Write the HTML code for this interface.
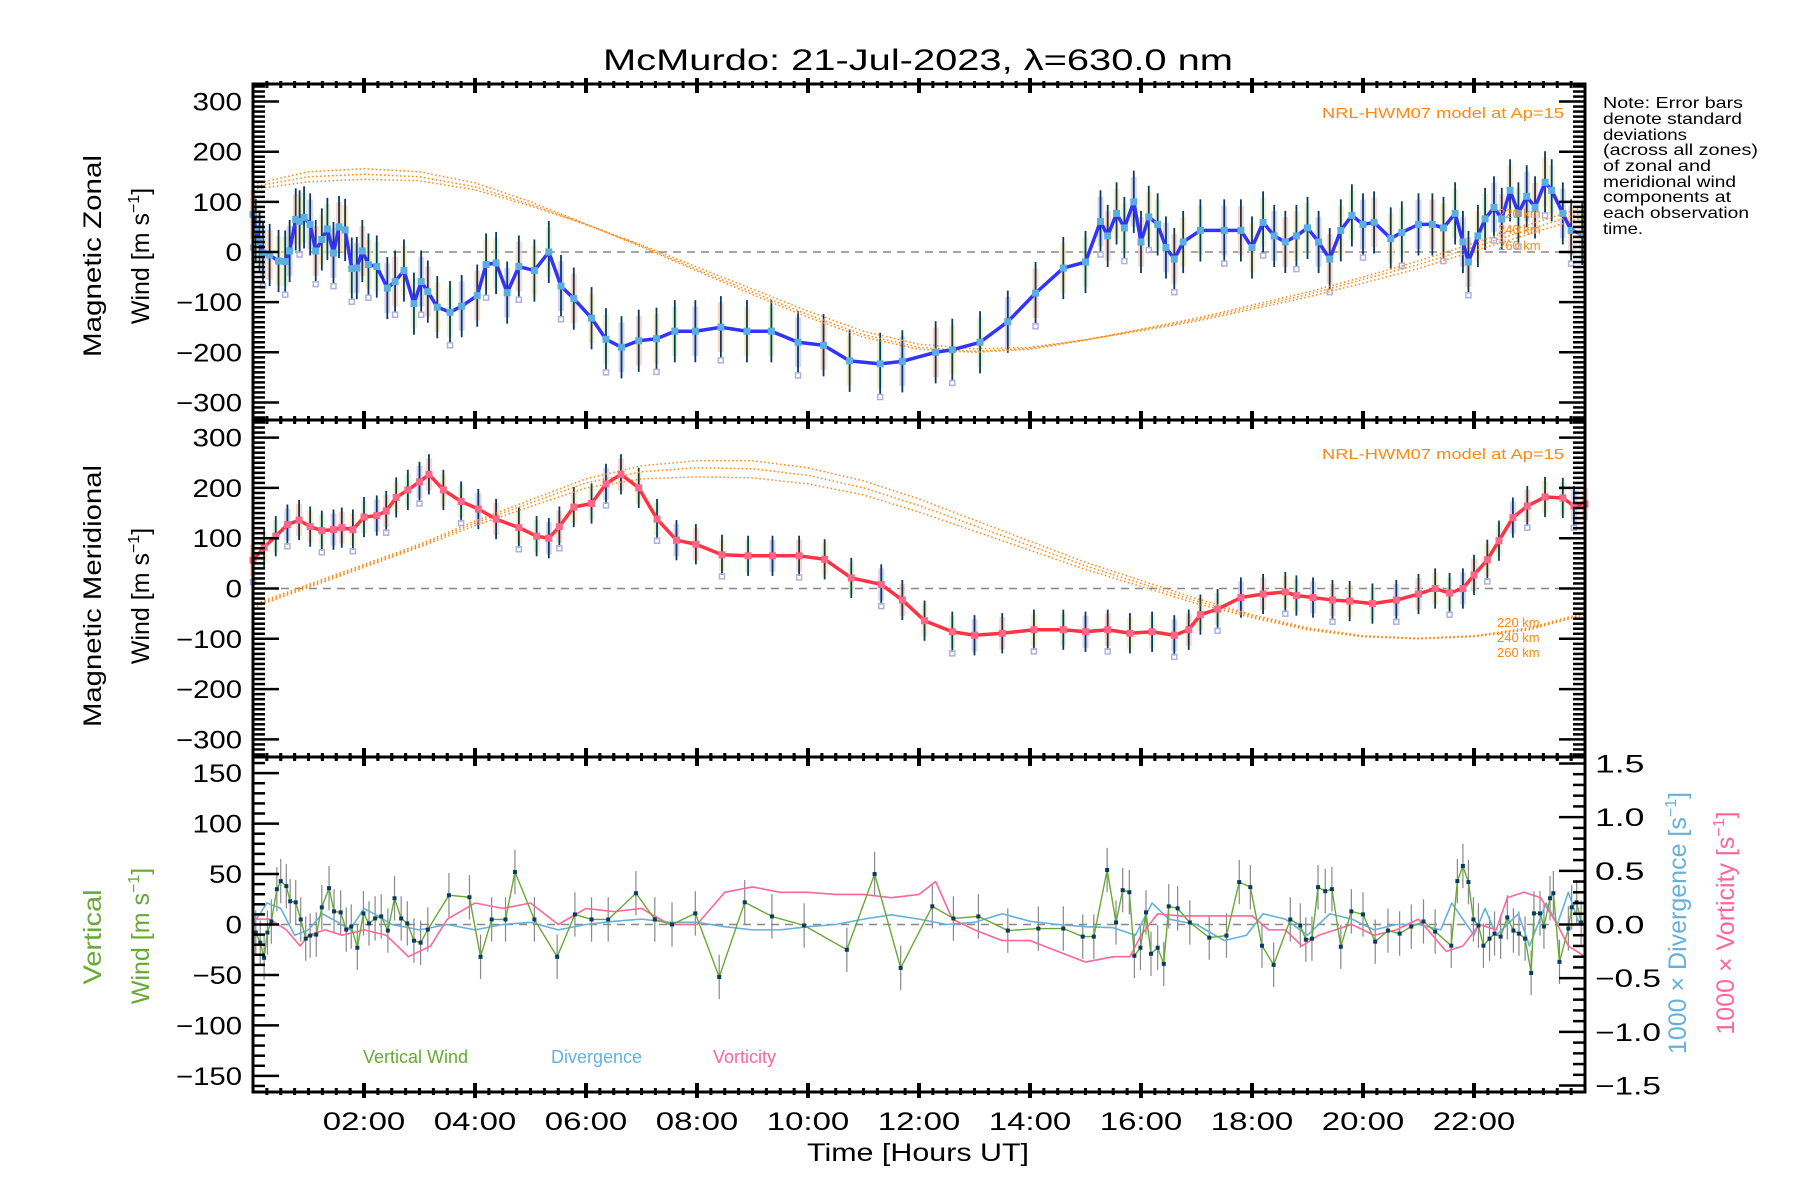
<!DOCTYPE html>
<html><head><meta charset="utf-8"><title>McMurdo winds</title>
<style>
html,body{margin:0;padding:0;background:#fff;}
svg{display:block;font-family:"Liberation Sans",sans-serif;}
</style></head>
<body>
<svg id="chart" width="1800" height="1200" viewBox="0 0 1800 1200" xmlns="http://www.w3.org/2000/svg">
<rect x="0" y="0" width="1800" height="1200" fill="#fff"/>
<text x="918" y="70" font-size="30" text-anchor="middle" textLength="630" lengthAdjust="spacingAndGlyphs">McMurdo: 21-Jul-2023, λ=630.0 nm</text>
<g id="g-marks"></g>
<g id="g-axes"></g>
<g font-size="16" fill="#000">
<text x="1603" y="108" textLength="140" lengthAdjust="spacingAndGlyphs">Note: Error bars</text>
<text x="1603" y="124" textLength="139" lengthAdjust="spacingAndGlyphs">denote standard</text>
<text x="1603" y="140" textLength="84" lengthAdjust="spacingAndGlyphs">deviations</text>
<text x="1603" y="155" textLength="155" lengthAdjust="spacingAndGlyphs">(across all zones)</text>
<text x="1603" y="171" textLength="108" lengthAdjust="spacingAndGlyphs">of zonal and</text>
<text x="1603" y="187" textLength="133" lengthAdjust="spacingAndGlyphs">meridional wind</text>
<text x="1603" y="202" textLength="128" lengthAdjust="spacingAndGlyphs">components at</text>
<text x="1603" y="218" textLength="146" lengthAdjust="spacingAndGlyphs">each observation</text>
<text x="1603" y="234" textLength="40" lengthAdjust="spacingAndGlyphs">time.</text>
</g>
<g font-size="25">
<text transform="translate(101,256) rotate(-90)" text-anchor="middle" textLength="202" lengthAdjust="spacingAndGlyphs">Magnetic Zonal</text>
<text transform="translate(149,256) rotate(-90)" text-anchor="middle">Wind [m s<tspan font-size="16" dy="-10">−1</tspan><tspan dy="10">]</tspan></text>
<text transform="translate(101,596) rotate(-90)" text-anchor="middle" textLength="262" lengthAdjust="spacingAndGlyphs">Magnetic Meridional</text>
<text transform="translate(149,596) rotate(-90)" text-anchor="middle">Wind [m s<tspan font-size="16" dy="-10">−1</tspan><tspan dy="10">]</tspan></text>
<text transform="translate(101,937) rotate(-90)" text-anchor="middle" fill="#66aa33" textLength="95" lengthAdjust="spacingAndGlyphs">Vertical</text>
<text transform="translate(149,936) rotate(-90)" text-anchor="middle" fill="#66aa33">Wind [m s<tspan font-size="16" dy="-10">−1</tspan><tspan dy="10">]</tspan></text>
<text transform="translate(1686,923) rotate(-90)" text-anchor="middle" fill="#66b0dd">1000 × Divergence [s<tspan font-size="16" dy="-10">−1</tspan><tspan dy="10">]</tspan></text>
<text transform="translate(1734,923) rotate(-90)" text-anchor="middle" fill="#ff6699">1000 × Vorticity [s<tspan font-size="16" dy="-10">−1</tspan><tspan dy="10">]</tspan></text>
<text x="918" y="1161" text-anchor="middle" textLength="222" lengthAdjust="spacingAndGlyphs">Time [Hours UT]</text>
</g>
<g font-size="15" fill="#ff8811">
<text x="1564" y="118" text-anchor="end" textLength="242" lengthAdjust="spacingAndGlyphs">NRL-HWM07 model at Ap=15</text>
<text x="1564" y="459" text-anchor="end" textLength="242" lengthAdjust="spacingAndGlyphs">NRL-HWM07 model at Ap=15</text>
<text x="1498" y="218" font-size="13">220 km</text>
<text x="1498" y="234" font-size="13">240 km</text>
<text x="1498" y="250" font-size="13">260 km</text>
<text x="1497" y="627" font-size="13">220 km</text>
<text x="1497" y="642" font-size="13">240 km</text>
<text x="1497" y="657" font-size="13">260 km</text>
</g>
<g font-size="18">
<text x="363" y="1063" fill="#66aa33">Vertical Wind</text>
<text x="551" y="1063" fill="#66b0dd">Divergence</text>
<text x="713" y="1063" fill="#ff6699">Vorticity</text>
</g>
</svg>
<script>
// ---------- data ----------
const zonalT = [0,0.05,0.12,0.18,0.3,0.46,0.58,0.66,0.77,0.84,0.92,1.03,1.13,1.24,1.34,1.45,1.55,1.66,1.78,1.87,1.97,2.08,2.23,2.42,2.56,2.72,2.9,3.03,3.15,3.32,3.55,3.76,4.04,4.2,4.38,4.58,4.79,5.07,5.33,5.55,5.78,6.1,6.36,6.64,6.95,7.27,7.6,7.97,8.43,8.9,9.34,9.82,10.28,10.75,11.3,11.7,12.3,12.6,13.1,13.6,14.1,14.6,15.0,15.27,15.4,15.56,15.7,15.87,16.0,16.14,16.3,16.45,16.6,16.76,17.07,17.5,17.8,18.0,18.2,18.4,18.6,18.8,19.0,19.2,19.4,19.6,19.8,20.0,20.2,20.5,20.7,21.0,21.25,21.45,21.66,21.8,21.9,22.07,22.2,22.36,22.5,22.65,22.8,22.95,23.1,23.28,23.4,23.6,23.75,23.95];
const zonalV = [75,44,21,-2,-6,-18,-19,2,65,61,69,55,2,25,46,-2,50,44,-33,-32,2,-25,-29,-72,-59,-37,-103,-59,-79,-110,-120,-108,-87,-25,-22,-81,-29,-37,0,-68,-93,-132,-174,-190,-177,-173,-158,-158,-150,-158,-158,-180,-186,-217,-223,-218,-200,-195,-180,-139,-82,-32,-20,61,32,77,48,100,20,70,55,9,-14,20,43,43,43,9,59,32,20,32,48,20,-14,43,73,55,59,27,39,55,55,48,77,20,-20,32,66,89,66,123,77,111,89,139,123,77,43,36];
const meridT = [0,0.2,0.41,0.62,0.83,1.03,1.24,1.45,1.6,1.8,2.0,2.23,2.4,2.58,2.79,3.0,3.17,3.43,3.75,4.06,4.38,4.79,5.11,5.33,5.52,5.78,6.1,6.36,6.63,6.95,7.28,7.63,7.98,8.45,8.92,9.36,9.84,10.3,10.78,11.32,11.7,12.1,12.6,13.0,13.5,14.07,14.6,15.0,15.4,15.8,16.2,16.6,16.86,17.07,17.38,17.8,18.2,18.6,18.8,19.1,19.45,19.76,20.17,20.6,21.0,21.3,21.56,21.8,22.0,22.24,22.45,22.7,22.96,23.28,23.6,23.8,24];
const meridV = [56,82,104,127,136,123,115,117,121,117,142,145,154,181,196,212,227,196,173,158,138,121,104,100,123,162,169,208,227,200,138,96,88,67,65,65,65,58,21,8,-23,-64,-86,-93,-89,-82,-82,-86,-82,-89,-86,-93,-82,-52,-41,-18,-11,-7,-14,-18,-23,-25,-30,-23,-11,0,-9,0,27,57,95,141,164,182,180,164,168];
const modelT = [0,1,2,3,4,5,6,7,8,9,10,11,12,13,14,15,16,17,18,19,20,21,22,23,24];
const zonal220 = [125,140,145,142,124,92,55,14,-30,-74,-118,-158,-184,-193,-190,-175,-157,-138,-114,-90,-62,-33,2,36,70];
const zonal240 = [130,150,155,150,130,95,55,12,-35,-80,-125,-165,-190,-198,-192,-175,-155,-135,-110,-85,-55,-25,10,45,80];
const zonal260 = [135,160,166,160,138,100,56,10,-38,-85,-130,-170,-194,-200,-194,-176,-154,-132,-106,-80,-50,-18,18,55,90];
const merid220 = [-38,2,42,82,125,163,200,218,222,220,208,186,152,114,76,38,4,-30,-58,-82,-96,-100,-96,-82,-52];
const merid240 = [-35,5,45,85,130,170,210,232,240,238,225,200,165,125,85,45,10,-25,-55,-80,-95,-100,-95,-80,-50];
const merid260 = [-32,8,48,88,134,176,218,244,254,254,240,214,178,136,94,52,16,-20,-52,-78,-94,-99,-94,-78,-48];
const vertT = [0.05,0.13,0.2,0.26,0.33,0.43,0.5,0.6,0.67,0.77,0.86,0.95,1.03,1.14,1.24,1.37,1.46,1.58,1.68,1.77,1.88,1.99,2.09,2.2,2.31,2.43,2.55,2.67,2.78,2.9,3.02,3.15,3.53,3.9,4.1,4.3,4.55,4.72,5.07,5.48,5.8,6.1,6.4,6.9,7.24,7.55,7.97,8.4,8.86,9.35,9.93,10.7,11.2,11.67,12.24,12.62,13.07,13.6,14.15,14.6,14.95,15.15,15.39,15.55,15.67,15.79,15.88,15.99,16.09,16.18,16.3,16.41,16.5,16.66,16.88,17.23,17.54,17.77,17.97,18.18,18.39,18.69,18.87,18.97,19.08,19.19,19.32,19.44,19.6,19.79,20.0,20.22,20.45,20.66,20.87,21.09,21.3,21.59,21.7,21.8,21.9,21.99,22.08,22.17,22.28,22.37,22.48,22.6,22.71,22.81,22.92,23.03,23.08,23.19,23.26,23.37,23.43,23.54,23.7,23.76,23.85,23.93];
const vertV = [-8,-18,-33,-8,3,35,43,38,23,22,5,-14,-11,-10,17,36,13,12,-5,-2,-23,11,1,6,8,-6,26,6,1,-16,-18,-5,29,27,-32,5,5,52,5,-32,10,5,5,31,5,0,11,-52,22,8,-1,-25,50,-43,18,6,8,-6,-4,-4,-12,-12,54,2,34,32,-31,-23,12,-29,-23,-39,18,16,2,-13,-11,42,37,-21,-40,5,-1,-15,-14,37,33,35,-22,13,10,-17,-6,-9,-2,3,-7,-21,43,58,42,5,-1,-21,-14,-9,-12,7,-6,-9,-14,-48,11,11,-2,26,31,-37,-4,17,22,2];
const divT = [0,0.25,0.5,0.75,1,1.25,1.5,1.75,2,2.25,2.5,3,3.5,4,4.5,5,5.5,6,6.5,7,7.5,8,8.5,9,9.5,10,10.5,11,11.5,12,12.5,13,13.5,14,14.5,15,15.5,15.9,16.2,16.5,17,17.5,17.9,18.2,18.6,19,19.4,19.8,20.2,20.6,21,21.4,21.6,22,22.2,22.4,22.6,22.8,23,23.3,23.5,23.7,23.9];
const divV = [0,0.2,0.15,-0.1,-0.05,0.1,0.03,-0.05,0.15,0.08,0,-0.05,0,-0.05,0,0.02,-0.05,0,0.03,0.05,0.02,0.02,-0.02,-0.05,-0.05,-0.02,0,0.05,0.09,0.05,0,0.02,0.1,0.03,0,-0.02,-0.03,-0.1,0.2,0.05,0,-0.15,-0.1,0.1,0.05,-0.1,0.1,0.05,-0.05,0,0,-0.05,0.2,-0.1,0.15,-0.1,0,0.1,-0.2,0.2,0,0.3,0];
const vortT = [0,0.3,0.6,0.85,1,1.3,1.6,2,2.4,2.8,3.2,3.5,4,4.5,5,5.5,6,6.5,7,7.5,8,8.5,9,9.5,10,10.5,11,11.5,12,12.3,12.6,13,13.5,14,14.5,15,15.5,15.8,16,16.3,16.7,17,17.5,18,18.3,18.6,18.9,19.2,19.5,19.8,20.2,20.6,21,21.5,21.8,22.1,22.4,22.6,22.9,23.2,23.5,23.7,24];
const vortV = [0.05,0.05,-0.05,-0.2,-0.1,-0.05,-0.1,-0.05,-0.1,-0.3,-0.2,0.05,0.2,0.15,0.2,0,0.15,0.12,0.15,0,0,0.3,0.35,0.3,0.3,0.28,0.28,0.25,0.28,0.4,0.05,-0.05,-0.15,-0.15,-0.25,-0.35,-0.3,-0.3,-0.1,0.1,0.08,0.08,0.08,0.08,-0.05,-0.05,-0.2,-0.1,-0.05,0,-0.1,-0.05,0.05,-0.25,-0.2,0,-0.05,0.25,0.3,0.25,0,-0.2,-0.3];
const yTicksWind = [-300,-200,-100,0,100,200,300];
const yTicksVert = [-150,-100,-50,0,50,100,150];
const yTicksRight = [-1.5,-1.0,-0.5,0.0,0.5,1.0,1.5];
const xTickHours = [2,4,6,8,10,12,14,16,18,20,22];

// ---------- layout ----------
const L=253, R=1585;
const P = [{top:84,bot:420},{top:420,bot:757},{top:757,bot:1092}];
const NS='http://www.w3.org/2000/svg';
const gm=document.getElementById('g-marks'), ga=document.getElementById('g-axes');
function mk(tag,attrs,parent){const e=document.createElementNS(NS,tag);for(const k in attrs)e.setAttribute(k,attrs[k]);(parent||gm).appendChild(e);return e;}
const xs = t => L + t*(R-L)/24;
function ysFactory(p,lo,hi){const c=(P[p].top+P[p].bot)/2, h=P[p].bot-P[p].top;return v=>c-(v-(lo+hi)/2)/(hi-lo)*h;}
const y1=ysFactory(0,-335,335), y2=ysFactory(1,-335,335), y3=ysFactory(2,-166,166), y3r=ysFactory(2,-1.56,1.56);

[[y1(0),'zero-line-zonal'],[y2(0),'zero-line-meridional'],[y3(0),'zero-line-vertical']].forEach(([y,n])=>{
  const l=mk('line',{x1:L,x2:R,y1:y,y2:y,stroke:'#888','stroke-width':1.5,'stroke-dasharray':'8,6'});
  
  
});

const stripeCols=['#ffc8b0','#fde6a8','#d8f0c0','#c8c8f0'];
function errorBars(T,V,ys,name,err){
  const g=mk('g',{});
  
  
  T.forEach((t,i)=>{
    const x=xs(t), v=V[i];
    const r=mk('rect',{x:x-3,y:ys(v+err*0.8),width:6,height:ys(v-err*0.8)-ys(v+err*0.8),fill:stripeCols[i%4],opacity:0.75},g);
    
    
    const ln=mk('line',{x1:x,x2:x,y1:ys(v+err),y2:ys(v-err),stroke:'#0a3a60','stroke-width':1.8},g);
    
    
    if(i%3===0){
      const sq=mk('rect',{x:x-2.5,y:ys(v-err*1.05)-2,width:5,height:5,fill:'none',stroke:'#b0b0e0','stroke-width':1.5},g);
      
      
    }
  });
}
function modelCurve(V,ys,name){
  const pts=modelT.map((t,i)=>xs(t)+','+ys(V[i])).join(' ');
  const pl=mk('polyline',{points:pts,fill:'none',stroke:'#ff8811','stroke-width':1.5,'stroke-dasharray':'1.5,2.5'});
  
  
}
function line(T,V,ys,color,w,name){
  const pts=T.map((t,i)=>xs(t)+','+ys(V[i])).join(' ');
  const pl=mk('polyline',{points:pts,fill:'none',stroke:color,'stroke-width':w,'stroke-linejoin':'round'});
  
  
}
function markers(T,V,ys,color,s,name){
  const g=mk('g',{});
  
  
  T.forEach((t,i)=>{
    const m=mk('rect',{x:xs(t)-s/2,y:ys(V[i])-s/2,width:s,height:s,fill:color},g);
    
    
  });
}
errorBars(zonalT,zonalV,y1,'zonal-error-bars',62);
modelCurve(zonal220,y1,'zonal-model-220km');
modelCurve(zonal240,y1,'zonal-model-240km');
modelCurve(zonal260,y1,'zonal-model-260km');
line(zonalT,zonalV,y1,'#3333ff',3.5,'zonal-wind-line');
markers(zonalT,zonalV,y1,'#5aaee0',7,'zonal-wind-markers');
errorBars(meridT,meridV,y2,'meridional-error-bars',40);
modelCurve(merid220,y2,'meridional-model-220km');
modelCurve(merid240,y2,'meridional-model-240km');
modelCurve(merid260,y2,'meridional-model-260km');
line(meridT,meridV,y2,'#ff3344',3.5,'meridional-wind-line');
markers(meridT,meridV,y2,'#ff6688',7,'meridional-wind-markers');
(function(){
  const g=mk('g',{});
  
  
  vertT.forEach((t,i)=>{
    const l=mk('line',{x1:xs(t),x2:xs(t),y1:y3(vertV[i]+22),y2:y3(vertV[i]-22),stroke:'#888','stroke-width':1.2},g);
    
    
  });
})();
line(divT,divV,y3r,'#66b0dd',1.6,'divergence-line');
line(vortT,vortV,y3r,'#ff6699',1.6,'vorticity-line');
line(vertT,vertV,y3,'#66aa33',1.4,'vertical-wind-line');
markers(vertT,vertV,y3,'#0a3a60',4,'vertical-wind-markers');

P.forEach((p,pi)=>{
  const fr=mk('rect',{x:L,y:p.top,width:R-L,height:p.bot-p.top,fill:'none',stroke:'#000','stroke-width':3},ga);
  
  
  for(let q=1;q<96;q++){
    const x=xs(q/4), maj=(q%8===0);
    const len=maj?9:4;
    mk('line',{x1:x,x2:x,y1:p.top-(maj?6:3),y2:p.top+len,stroke:'#000','stroke-width':maj?4:3},ga);
    mk('line',{x1:x,x2:x,y1:p.bot-len,y2:p.bot+(maj?6:3),stroke:'#000','stroke-width':maj?4:3},ga);
  }
});
function yAxis(pi,ys,lo,hi,minor,major,side){
  const p=P[pi];
  const x0=side==='L'?L:R, dir=side==='L'?1:-1;
  for(let v=lo;v<=hi+1e-9;v+=minor){
    const y=ys(v); if(y<p.top+2||y>p.bot-2) continue;
    const isMaj=Math.abs(v/major-Math.round(v/major))<1e-6;
    mk('line',{x1:x0,x2:x0+dir*(isMaj?26:12),y1:y,y2:y,stroke:'#000','stroke-width':2.5},ga);
  }
}
yAxis(0,y1,-330,330,10,100,'L'); yAxis(0,y1,-330,330,10,100,'R');
yAxis(1,y2,-330,330,10,100,'L'); yAxis(1,y2,-330,330,10,100,'R');
yAxis(2,y3,-160,160,10,50,'L');
yAxis(2,y3r,-1.6,1.6,0.1,0.5,'R');

function label(x,y,txt,anchor,name){
  const t=mk('text',{x:x,y:y,'font-size':25,'text-anchor':anchor,textLength:txt.length*16.5,lengthAdjust:'spacingAndGlyphs'},ga);
  t.textContent=txt;
  
  
}
const fmtW=v=>(v<0?'−':'')+Math.abs(v);
yTicksWind.forEach(v=>label(242,y1(v)+9,fmtW(v),'end','zonal-tick-label'));
yTicksWind.forEach(v=>label(242,y2(v)+9,fmtW(v),'end','meridional-tick-label'));
yTicksVert.forEach(v=>label(242,y3(v)+9,fmtW(v),'end','vertical-tick-label'));
yTicksRight.forEach(v=>label(1595,y3r(v)+9,(v<0?'−':'')+Math.abs(v).toFixed(1),'start','right-tick-label'));
xTickHours.forEach(h=>label(xs(h),1130,(h<10?'0':'')+h+':00','middle','x-tick-label'));
</script>
</body></html>
